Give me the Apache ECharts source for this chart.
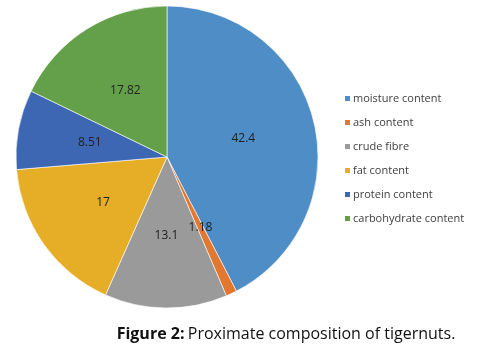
<!DOCTYPE html>
<html>
<head>
<meta charset="utf-8">
<script src="https://cdn.jsdelivr.net/npm/echarts@6/dist/echarts.min.js"></script>
<style>
html,body{margin:0;padding:0;background:#fff;}
#c{width:480px;height:356px;}
</style>
</head>
<body>
<div id="c"></div>
<script>
var categories = ['moisture content','ash content','crude fibre','fat content','protein content','carbohydrate content'];
var values = [42.4, 1.18, 13.1, 17, 8.51, 17.82];
var colors = ['#4f8dc6','#e2782f','#9a9a9a','#e6ad26','#3d67b3','#64a04a'];
var captionBold = 'Figure 2:';
var captionText = 'Proximate composition of tigernuts.';

var chart = echarts.init(document.getElementById('c'), null, {renderer:'canvas'});
chart.setOption({
  animation:false,
  backgroundColor:'#fff',
  color: colors,
  graphic:[{
    type:'text',
    x:286, y:334,
    style:{
      text:'{b|'+captionBold+'} {n|'+captionText+'}',
      align:'center', verticalAlign:'middle',
      rich:{
        b:{fontFamily:'Open Sans',fontWeight:'bold',fontSize:16,fill:'#111'},
        n:{fontFamily:'Open Sans',fontWeight:'normal',fontSize:16,fill:'#111'}
      }
    }
  }],
  legend:{
    orient:'vertical',
    left:338, top:87,
    itemWidth:7, itemHeight:7, itemGap:11,
    icon:'rect',
    data:categories,
    textStyle:{fontFamily:'Open Sans',fontSize:11,color:'#404040',lineHeight:13,padding:[0,0,0,-3]}
  },
  series:[{
    type:'pie',
    center:[167,157],
    radius:151,
    startAngle:90,
    clockwise:true,
    label:{show:true,position:'inside',formatter:function(p){return String(values[p.dataIndex]);},
      fontFamily:'Open Sans',fontSize:12,color:'#222'},
    labelLine:{show:false},
    itemStyle:{borderColor:'#fff',borderWidth:0.6},
    emphasis:{disabled:true},
    data:categories.map(function(n,i){return {name:n,value:values[i]};})
  }]
});
</script>
</body>
</html>
